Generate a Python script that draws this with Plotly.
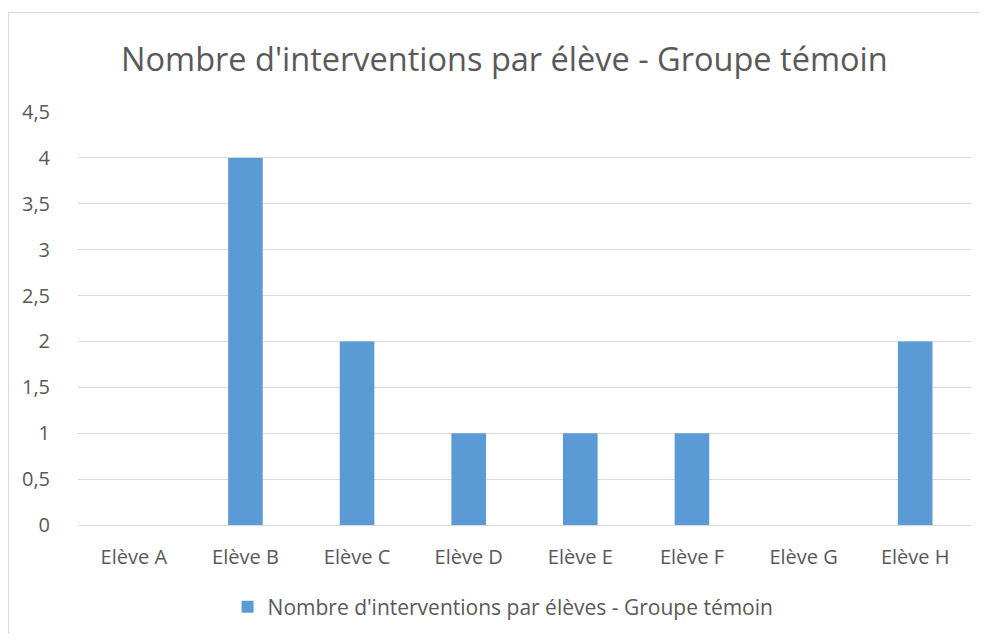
import plotly.graph_objects as go

categories = ["Elève A", "Elève B", "Elève C", "Elève D", "Elève E", "Elève F", "Elève G", "Elève H"]
values = [0, 4, 2, 1, 1, 1, 0, 2]
y_tickvals = [0, 0.5, 1, 1.5, 2, 2.5, 3, 3.5, 4, 4.5]
y_ticktext = ["0", "0,5", "1", "1,5", "2", "2,5", "3", "3,5", "4", "4,5"]
series_name = "Nombre d'interventions par élèves - Groupe témoin"
title_text = "Nombre d'interventions par élève - Groupe témoin"

FONT = "Open Sans, Carlito, Calibri, sans-serif"
GREY = "#595959"

W, H = 979, 626
L, R, T, B = 70, 16, 104, 109
PW, PH = W - L - R, H - T - B

fig = go.Figure()
fig.add_trace(go.Bar(x=categories, y=values, name=series_name,
                     marker=dict(color="#5B9BD5", line=dict(width=0))))

bx0 = (0.5 - L) / PW
by1 = (PH + T - 4.5) / PH
border = dict(color="#D9D9D9", width=1)

fig.update_layout(
    width=W, height=H,
    margin=dict(l=L, r=R, t=T, b=B, autoexpand=False),
    paper_bgcolor="white", plot_bgcolor="white",
    bargap=0.69,
    separators=", ",
    showlegend=True,
    title=dict(text=title_text, x=0.507, xanchor="center", y=1 - 52 / H, yanchor="middle",
               font=dict(family=FONT, size=32.5, color=GREY)),
    legend=dict(orientation="h", x=0.476, xanchor="center", yref="container", y=1 - 599 / H,
                yanchor="middle",
                font=dict(family=FONT, size=21, color=GREY), itemwidth=30),
    font=dict(family=FONT, color=GREY),
    xaxis=dict(showgrid=False, showline=True, linecolor="#D9D9D9", linewidth=1, automargin=False,
               ticks="", tickfont=dict(family=FONT, size=20, color=GREY), ticklabelstandoff=14),
    yaxis=dict(range=[0, 4.5], tickvals=y_tickvals, ticktext=y_ticktext, automargin=False,
               showgrid=True, gridcolor="#D9D9D9", gridwidth=1, zeroline=False,
               showline=False, ticks="",
               tickfont=dict(family=FONT, size=20, color=GREY), ticklabelstandoff=27),
    shapes=[
        dict(type="line", xref="paper", yref="paper", x0=bx0, x1=1.2, y0=by1, y1=by1,
             line=border, layer="below"),
        dict(type="line", xref="paper", yref="paper", x0=bx0, x1=bx0, y0=-0.5, y1=by1,
             line=border, layer="below"),
    ],
)

fig.write_html("out.html")
